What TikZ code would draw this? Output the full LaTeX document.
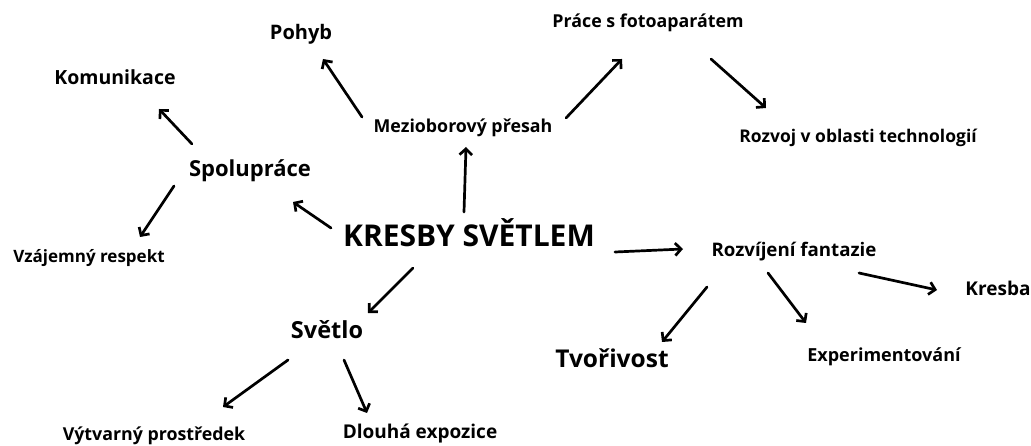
\documentclass[tikz,border=0pt]{standalone}
\usepackage{fontspec}
\setmainfont{Open Sans}[UprightFont=* Bold]
\usetikzlibrary{arrows.meta}
\tikzset{
  lbl/.style={anchor=base, inner sep=0pt, font=\fontsize{#1}{#1}\selectfont},
  arr/.style={line width=2.7pt, -{Straight Barb[length=6pt,width=12.5pt]}, line cap=round},
}
\begin{document}
\begin{tikzpicture}[x=1pt,y=-1pt]
\useasboundingbox (0,0) rectangle (1031,446);
% nodes
\node[lbl=30] (k) at (469,247) {KRESBY SVĚTLEM};
\node[lbl=22] (sp) at (250,177) {Spolupráce};
\node[lbl=19.5] (kom) at (115,85) {Komunikace};
\node[lbl=17] (vr) at (89,263) {Vzájemný respekt};
\node[lbl=17.8] (mp) at (463,133) {Mezioborový přesah};
\node[lbl=20] (po) at (301,40) {Pohyb};
\node[lbl=17.8] (pf) at (648,28) {Práce s fotoaparátem};
\node[lbl=17.5] (rt) at (858,143) {Rozvoj v oblasti technologií};
\node[lbl=18.7] (rf) at (794,257) {Rozvíjení fantazie};
\node[lbl=19] (kr) at (998,296) {Kresba};
\node[lbl=18] (ex) at (884,362) {Experimentování};
\node[lbl=24.5] (tv) at (612,367) {Tvořivost};
\node[lbl=23.5] (sv) at (327,339) {Světlo};
\node[lbl=17.8] (vp) at (154,440) {Výtvarný prostředek};
\node[lbl=19] (de) at (420,438) {Dlouhá expozice};
% connector end points
\coordinate (k-sp-a) at (331,228); \coordinate (k-sp-b) at (293,202);
\coordinate (sp-kom-a) at (192,144); \coordinate (sp-kom-b) at (159,109);
\coordinate (sp-vr-a) at (174,186); \coordinate (sp-vr-b) at (140,237);
\coordinate (k-mp-a) at (464,212); \coordinate (k-mp-b) at (466,147);
\coordinate (mp-po-a) at (362,117); \coordinate (mp-po-b) at (323,59);
\coordinate (mp-pf-a) at (566,118); \coordinate (mp-pf-b) at (622,59);
\coordinate (pf-rt-a) at (711,59); \coordinate (pf-rt-b) at (766,108);
\coordinate (k-rf-a) at (615,252); \coordinate (k-rf-b) at (683,249);
\coordinate (rf-kr-a) at (859,273); \coordinate (rf-kr-b) at (937,290);
\coordinate (rf-ex-a) at (768,273); \coordinate (rf-ex-b) at (806,323);
\coordinate (rf-tv-a) at (707,287); \coordinate (rf-tv-b) at (662,342);
\coordinate (k-sv-a) at (413,268); \coordinate (k-sv-b) at (368,313);
\coordinate (sv-vp-a) at (288,360); \coordinate (sv-vp-b) at (223,407);
\coordinate (sv-de-a) at (344,360); \coordinate (sv-de-b) at (367,413);
% connectors
\foreach \c in {k-sp,sp-kom,sp-vr,k-mp,mp-po,mp-pf,pf-rt,k-rf,rf-kr,rf-ex,rf-tv,k-sv,sv-vp,sv-de}
  \draw[arr] (\c-a) -- (\c-b);
\end{tikzpicture}
\end{document}
